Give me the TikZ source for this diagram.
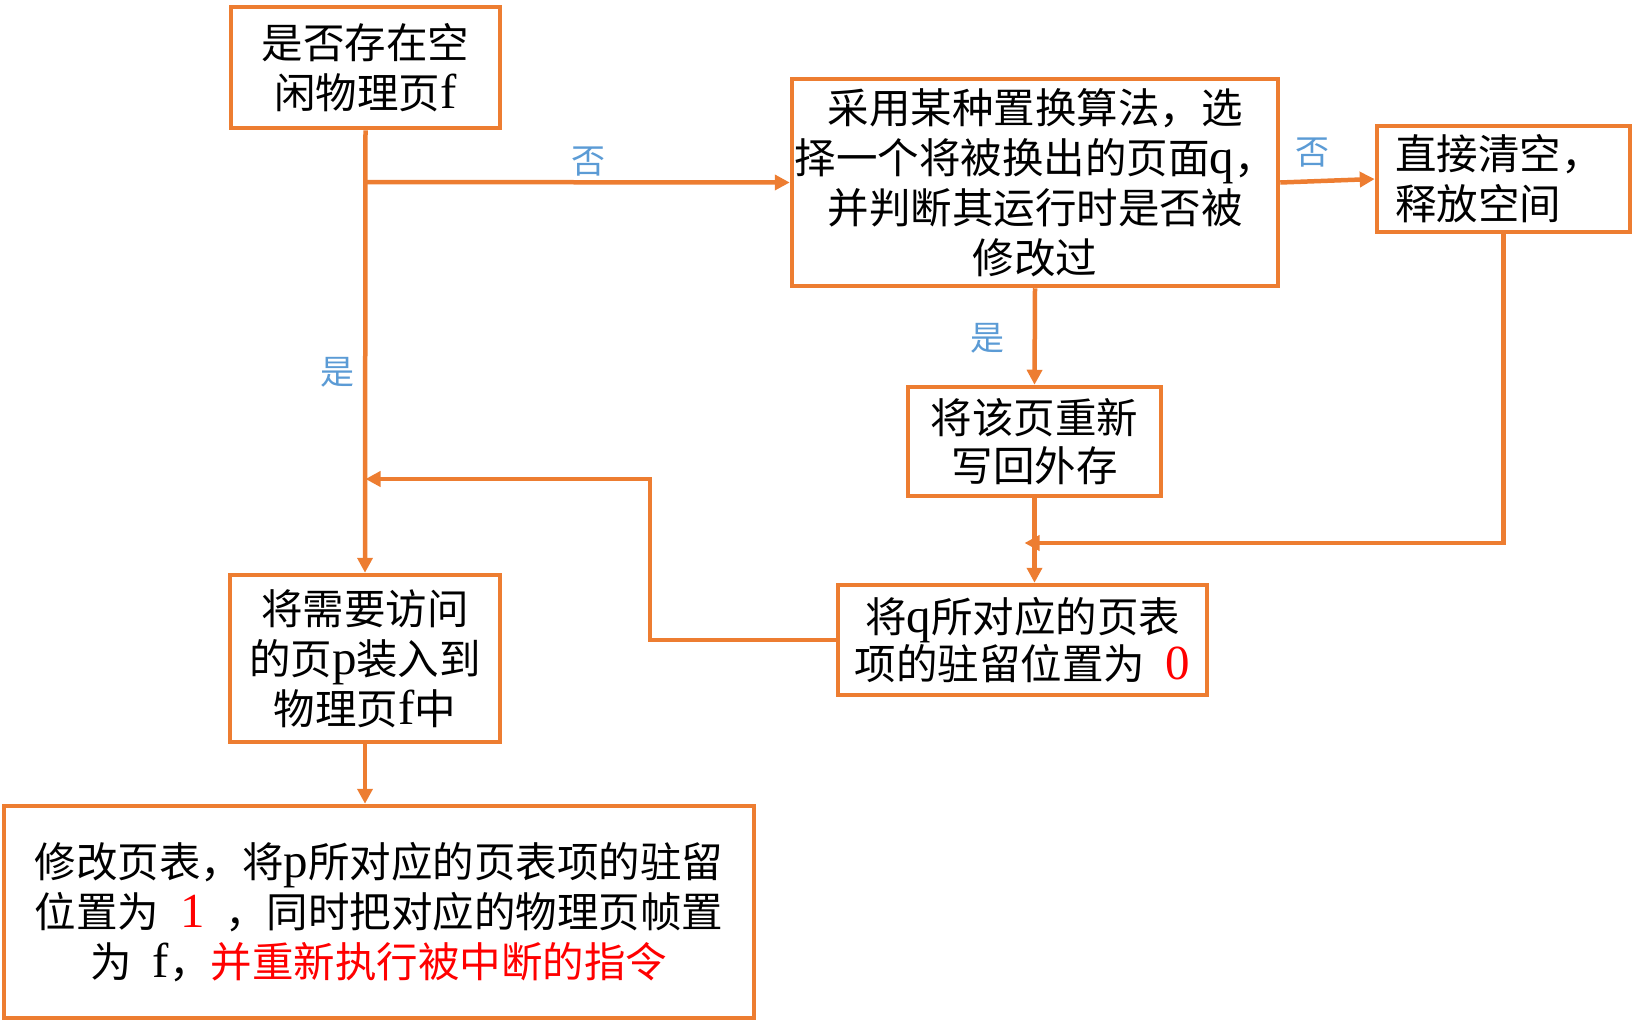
\documentclass[tikz,border=0pt]{standalone}
\usepackage{fontspec}
\setmainfont{Liberation Serif}
\newfontfamily\cjk{Noto Sans CJK SC}
\newfontfamily\latinf[Scale=1.18]{Liberation Serif}
\newcommand\myl[1]{{\latinf #1}}
\newcommand\gap{\hspace{0.5em}}
\usetikzlibrary{arrows.meta}
\definecolor{borange}{HTML}{ED7D31}
\definecolor{lblue}{HTML}{5B9BD5}
\definecolor{tred}{HTML}{FF0000}
\begin{document}
\begin{tikzpicture}[x=1pt,y=-1pt,
  box/.style={draw=borange, line width=4.5pt, rectangle, inner sep=0pt, align=center,
    font=\cjk\fontsize{41.5}{50}\selectfont, text=black},
  conn/.style={draw=borange, line width=4.5pt},
  arr/.style={conn, -{Triangle[length=15pt,width=15pt]}},
  lbl/.style={text=lblue, font=\cjk\fontsize{34}{40}\selectfont, inner sep=0pt}]
\useasboundingbox (0,0) rectangle (1635,1023);

\node[box, minimum width=269pt, minimum height=121pt] (A) at (365.5,67.5)
  {是否存在空\\闲物理页\myl{f}};
\node[box, minimum width=486pt, minimum height=207pt] (B) at (1035,182.5)
  {采用某种置换算法，选\\择一个将被换出的页面\myl{q}，\\并判断其运行时是否被\\修改过};
\node[box, minimum width=253pt, minimum height=106pt, text width=217pt, inner xsep=18pt, align=left] (C) at (1503.5,179)
  {直接清空，\\释放空间};
\node[box, minimum width=253pt, minimum height=109pt, font=\cjk\fontsize{41.5}{48}\selectfont] (D) at (1034.5,441.5)
  {将该页重新\\写回外存};
\node[box, minimum width=369pt, minimum height=110pt, font=\cjk\fontsize{41.5}{47}\selectfont] (E) at (1022.5,640)
  {将\myl{q}所对应的页表\\项的驻留位置为\gap\textcolor{tred}{\myl{0}}};
\node[box, minimum width=270pt, minimum height=167pt] (F) at (365,658.5)
  {将需要访问\\的页\myl{p}装入到\\物理页\myl{f}中};
\node[box, minimum width=750pt, minimum height=212pt] (G) at (379,912)
  {修改页表，将\myl{p}所对应的页表项的驻留\\位置为\gap\textcolor{tred}{\myl{1}}\gap，同时把对应的物理页帧置\\为\gap\myl{f}，\textcolor{tred}{并重新执行被中断的指令}};

% labels
\node[lbl] (l1) at (588,162) {否};
\node[lbl] (l2) at (337,372) {是};
\node[lbl] (l3) at (1312,153) {否};
\node[lbl] (l4) at (987,338) {是};

% connectors
\coordinate (jA) at (A.south |- 0,182);
\coordinate (jE1) at (650,640);
\coordinate (jE2) at (650,479);
\coordinate (jF) at (A.south |- 0,479);
\coordinate (jC) at (C.south |- 0,543);
\coordinate (jD) at (D.south |- 0,543);

\draw[arr] (A.south) -- (F.north);
\draw[arr] (jA) -- (B.west);
\draw[arr] (B.east) -- (C.west);
\draw[arr] (B.south) -- (D.north);
\draw[arr] (D.south) -- (D.south |- E.north);
\draw[arr] (C.south) -- (jC) -- ([xshift=-10pt]jD);
\draw[arr] (E.west) -- (jE1) -- (jE2) -- (jF);
\draw[arr] (F.south) -- (F.south |- G.north);
\end{tikzpicture}
\end{document}
